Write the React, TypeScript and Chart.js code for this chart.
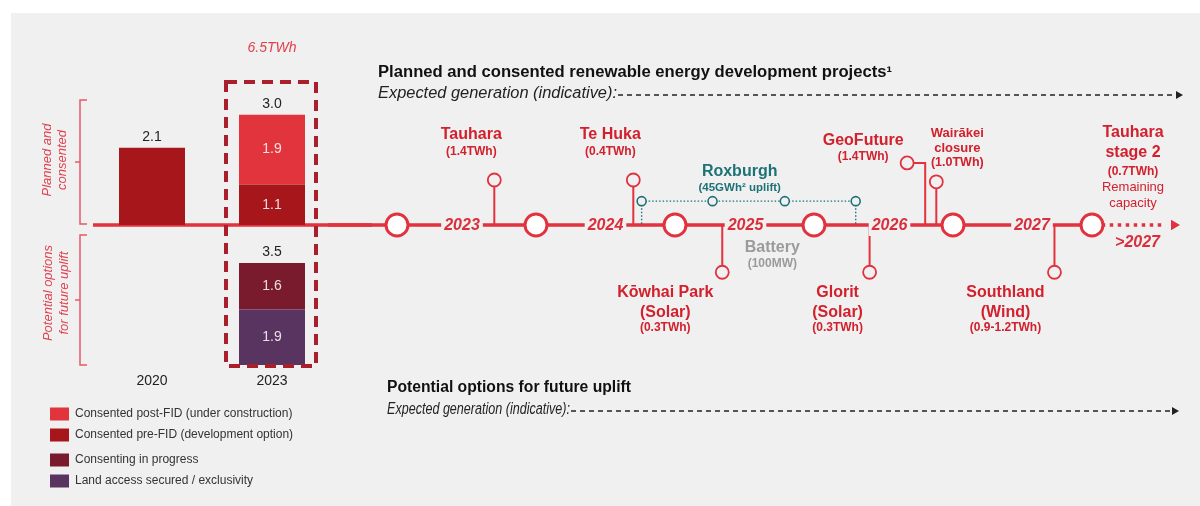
import React, { useEffect, useRef } from 'react';
import { Chart, registerables } from 'chart.js';

Chart.register(...registerables);

const SANS = '"Liberation Sans", Arial, Helvetica, sans-serif';
Chart.defaults.font.family = SANS;

// ---------------- Data ----------------
const barCategories = ['2020', '2023'];
const consentedPostFID = [null, 1.9];
const consentedPreFID = [2.1, 1.1];
const consentingInProgress = [null, 1.6];
const landAccessSecured = [null, 1.9];
const seriesLabels = [
  'Consented post-FID (under construction)',
  'Consented pre-FID (development option)',
  'Consenting in progress',
  'Land access secured / exclusivity',
];
const pipelineTotal = '6.5TWh';
const sectionTitles = [
  ['Planned and', 'consented'],
  ['Potential options', 'for future uplift'],
];

const yearTicks = [2023, 2024, 2025, 2026, 2027];
const milestoneMarks = [2022.5, 2023.5, 2024.5, 2025.5, 2026.5, 2027.5];
const projectNames = [
  'Tauhara',
  'Te Huka',
  'Roxburgh',
  'Kōwhai Park\n(Solar)',
  'Battery',
  'Glorit\n(Solar)',
  'GeoFuture',
  'Wairākei\nclosure',
  'Southland\n(Wind)',
  'Tauhara\nstage 2',
];
const projectOutputs = [
  '(1.4TWh)',
  '(0.4TWh)',
  '(45GWh² uplift)',
  '(0.3TWh)',
  '(100MW)',
  '(0.3TWh)',
  '(1.4TWh)',
  '(1.0TWh)',
  '(0.9-1.2TWh)',
  '(0.7TWh)',
];
const projectTiming = [2023.2, 2024.2, 2025.03, 2024.84, 2025.2, 2025.9, 2026.3, 2026.38, 2027.23, 2027.5];
const roxburghSteps = [2024.26, 2024.77, 2025.29, 2025.8];
const stage2Note = ['Remaining', 'capacity'];
const beyondLabel = '>2027';
const plannedHeading = 'Planned and consented renewable energy development projects¹';
const potentialHeading = 'Potential options for future uplift';
const expectedLabel = 'Expected generation (indicative):';

// ---------------- Styles ----------------
const RED = '#e1323e';
const TEXT_RED = '#d2202d';
const YEAR_RED = '#d92f3c';
const TEAL = '#1d7277';
const GRAY = '#9b9b9b';
const BG = '#f0f0f0';
const POST = '#e2343d';
const PRE = '#a6161b';
const CIP = '#7a1b2d';
const LAND = '#5a3460';
const BOX = '#a91f2b';
const BRACKET = '#e35a64';
const INK = '#222222';

function txt(ctx: any, s: string, x: number, y: number, font: string, color: string, align: string = 'center') {
  ctx.font = font;
  ctx.fillStyle = color;
  ctx.textAlign = align;
  ctx.textBaseline = 'middle';
  ctx.fillText(s, x, y);
}

// ---------------- Bar chart decorations ----------------
const barDecor = {
  id: 'barDecor',
  beforeDatasetsDraw(chart: any) {
    const { ctx } = chart;
    const y0 = chart.scales.y.getPixelForValue(0);
    ctx.save();
    ctx.strokeStyle = RED;
    ctx.lineWidth = 3.5;
    ctx.beginPath();
    ctx.moveTo(93, y0);
    ctx.lineTo(chart.chartArea.right + 40, y0);
    ctx.stroke();
    ctx.restore();
  },
  afterDatasetsDraw(chart: any) {
    const { ctx, chartArea } = chart;
    const xs = chart.scales.x;
    const y0 = chart.scales.y.getPixelForValue(0);
    ctx.save();

    // segment and total labels
    ['y', 'y2'].forEach((axisId) => {
      const scale = chart.scales[axisId];
      barCategories.forEach((_, i) => {
        let sum = 0;
        const segs: any[] = [];
        chart.data.datasets.forEach((ds: any, di: number) => {
          if (ds.yAxisID !== axisId) return;
          const v = ds.data[i];
          if (v == null) return;
          sum += v;
          segs.push({ el: chart.getDatasetMeta(di).data[i], v });
        });
        if (!segs.length) return;
        if (segs.length > 1) {
          segs.forEach(({ el, v }) => {
            txt(ctx, v.toFixed(1), el.x, (el.y + el.base) / 2, `14px ${SANS}`, 'rgba(255,255,255,0.85)');
          });
        }
        txt(ctx, sum.toFixed(1), xs.getPixelForValue(i), scale.getPixelForValue(sum) - 11, `14px ${SANS}`, INK);
      });
    });

    // dashed highlight box around the latest year
    const hi = barCategories.length - 1;
    const el = chart.getDatasetMeta(0).data[hi];
    const left = el.x - el.width / 2 - 13;
    const right = el.x + el.width / 2 + 11;
    const top = chartArea.top - 18;
    const bottom = chartArea.bottom + 1;
    ctx.setLineDash([11, 7]);
    ctx.lineWidth = 4;
    ctx.strokeStyle = BOX;
    ctx.strokeRect(left, top, right - left, bottom - top);
    ctx.setLineDash([]);
    txt(ctx, pipelineTotal, el.x, 48, `italic 14px ${SANS}`, '#e0404c');

    // brackets
    const bracket = (t: number, b: number, m: number) => {
      ctx.strokeStyle = BRACKET;
      ctx.lineWidth = 1.5;
      ctx.beginPath();
      ctx.moveTo(87, t);
      ctx.lineTo(80, t);
      ctx.lineTo(80, b);
      ctx.lineTo(87, b);
      ctx.moveTo(80, m);
      ctx.lineTo(75, m);
      ctx.stroke();
    };
    bracket(chartArea.top, y0 - 1, 162);
    bracket(y0 + 10, chartArea.bottom, 300);

    const rotated = (lines: string[], xs0: number[], cy: number) => {
      lines.forEach((s, k) => {
        ctx.save();
        ctx.translate(xs0[k], cy);
        ctx.rotate(-Math.PI / 2);
        txt(ctx, s, 0, 0, `italic 13px ${SANS}`, '#e0404c');
        ctx.restore();
      });
    };
    rotated(sectionTitles[0], [47, 62], 160);
    rotated(sectionTitles[1], [48, 64], 293);

    // category labels
    barCategories.forEach((c, i) => {
      txt(ctx, c, xs.getPixelForValue(i), chartArea.bottom + 16, `14px ${SANS}`, INK);
    });

    // legend
    const order = [1, 0, 3, 2];
    let ly = 414;
    order.forEach((di, k) => {
      const ds = chart.data.datasets[di];
      ctx.fillStyle = ds.backgroundColor;
      ctx.fillRect(50, ly - 6.5, 19, 13);
      txt(ctx, ds.label, 75, ly, `12px ${SANS}`, '#333', 'left');
      ly += k === 1 ? 25 : 21;
    });
    ctx.restore();
  },
};

// ---------------- Timeline decorations ----------------
const yearDx = [-4.5, 0, 1, 6, 9.5];
const labelLayout = [
  { dx: -23, color: TEXT_RED, nameFont: 'bold 16px', nameDy: [-90], outFont: 'bold 12px', outDy: -73 },
  { dx: -23, color: TEXT_RED, nameFont: 'bold 16px', nameDy: [-90], outFont: 'bold 12px', outDy: -73 },
  { dx: -9, color: TEAL, nameFont: 'bold 16px', nameDy: [-53], outFont: 'bold 11.5px', outDy: -37 },
  { dx: -57, color: TEXT_RED, nameFont: 'bold 16px', nameDy: [68, 88], outFont: 'bold 12px', outDy: 103 },
  { dx: 0, color: GRAY, nameFont: 'bold 16px', nameDy: [23], outFont: 'bold 12px', outDy: 39 },
  { dx: -32, color: TEXT_RED, nameFont: 'bold 16px', nameDy: [68, 88], outFont: 'bold 12px', outDy: 103 },
  { dx: -62, color: TEXT_RED, nameFont: 'bold 16px', nameDy: [-84], outFont: 'bold 12px', outDy: -68 },
  { dx: 21, color: TEXT_RED, nameFont: 'bold 13px', nameDy: [-92, -77], outFont: 'bold 12.5px', outDy: -62 },
  { dx: -49, color: TEXT_RED, nameFont: 'bold 16px', nameDy: [68, 88], outFont: 'bold 12px', outDy: 103 },
  { dx: 41, color: TEXT_RED, nameFont: 'bold 16px', nameDy: [-92, -72], outFont: 'bold 12px', outDy: -53 },
];
const stemLayout: any[] = [
  { level: 1.0 },
  { level: 1.0 },
  null,
  { level: -1.05 },
  null,
  { level: -1.05 },
  { level: 1.38, elbow: -0.13 },
  { level: 0.96 },
  { level: -1.05 },
  null,
];
const ROX_LEVEL = 0.53;

function fitText(ctx: any, s: string, x: number, y: number, font: string, color: string, targetW?: number) {
  ctx.font = font;
  const w = ctx.measureText(s).width;
  const sc = targetW ? targetW / w : 1;
  ctx.save();
  ctx.translate(x, y);
  ctx.scale(sc, 1);
  ctx.fillStyle = color;
  ctx.textAlign = 'left';
  ctx.textBaseline = 'middle';
  ctx.fillText(s, 0, 0);
  ctx.restore();
  return x + w * sc;
}

function dashedArrow(ctx: any, x1: number, x2: number, y: number) {
  ctx.save();
  ctx.strokeStyle = '#222';
  ctx.lineWidth = 1.4;
  ctx.setLineDash([5, 4]);
  ctx.beginPath();
  ctx.moveTo(x1, y);
  ctx.lineTo(x2 - 7, y);
  ctx.stroke();
  ctx.setLineDash([]);
  ctx.fillStyle = '#222';
  ctx.beginPath();
  ctx.moveTo(x2 - 7, y - 4);
  ctx.lineTo(x2, y);
  ctx.lineTo(x2 - 7, y + 4);
  ctx.closePath();
  ctx.fill();
  ctx.restore();
}

const tlDecor = {
  id: 'tlDecor',
  afterDatasetsDraw(chart: any) {
    const { ctx } = chart;
    const xs = chart.scales.x;
    const ys = chart.scales.y;
    const y0 = ys.getPixelForValue(0);
    ctx.save();

    // year labels sitting in gaps of the line
    yearTicks.forEach((yr, i) => {
      const cx = xs.getPixelForValue(yr) + yearDx[i];
      const font = `italic bold 16px ${SANS}`;
      ctx.font = font;
      const w = ctx.measureText(String(yr)).width;
      ctx.fillStyle = BG;
      ctx.fillRect(cx - w / 2 - 3, y0 - 11, w + 6, 22);
      txt(ctx, String(yr), cx, y0 + 1, font, YEAR_RED);
    });

    // project labels
    projectNames.forEach((name, i) => {
      const L = labelLayout[i];
      const cx = xs.getPixelForValue(projectTiming[i]) + L.dx;
      name.split('\n').forEach((line, k) => {
        txt(ctx, line, cx, y0 + L.nameDy[k], `${L.nameFont} ${SANS}`, L.color);
      });
      txt(ctx, projectOutputs[i], cx, y0 + L.outDy, `${L.outFont} ${SANS}`, L.color);
      if (i === projectNames.length - 1) {
        stage2Note.forEach((s, k) => txt(ctx, s, cx, y0 - 38 + k * 16, `13px ${SANS}`, TEXT_RED));
      }
    });

    // beyond label
    txt(ctx, beyondLabel, xs.getPixelForValue(2028.0) - 24, y0 + 18, `italic bold 16px ${SANS}`, YEAR_RED);

    // headings
    fitText(ctx, plannedHeading, 378, 73, `bold 16px ${SANS}`, '#111', 514);
    const e2 = fitText(ctx, expectedLabel, 378, 94, `italic 16px ${SANS}`, '#222', 239);
    dashedArrow(ctx, e2 + 1, 1183, 95);
    fitText(ctx, potentialHeading, 387, 388, `bold 16px ${SANS}`, '#111', 244);
    const e4 = fitText(ctx, expectedLabel, 387, 410, `italic 16px ${SANS}`, '#222', 183);
    dashedArrow(ctx, e4 + 1, 1179, 411);

    ctx.restore();
  },
};

export default function App() {
  const barRef = useRef<HTMLCanvasElement>(null);
  const tlRef = useRef<HTMLCanvasElement>(null);

  useEffect(() => {
    const barChart = new Chart(barRef.current as HTMLCanvasElement, {
      type: 'bar',
      data: {
        labels: barCategories,
        datasets: [
          { label: seriesLabels[1], data: consentedPreFID, backgroundColor: PRE, yAxisID: 'y' },
          { label: seriesLabels[0], data: consentedPostFID, backgroundColor: POST, yAxisID: 'y' },
          { label: seriesLabels[3], data: landAccessSecured, backgroundColor: LAND, yAxisID: 'y2' },
          { label: seriesLabels[2], data: consentingInProgress, backgroundColor: CIP, yAxisID: 'y2' },
        ] as any,
      },
      options: {
        animation: false,
        responsive: false,
        devicePixelRatio: 1,
        events: [],
        layout: { autoPadding: false, padding: { left: 92, right: 868, top: 100, bottom: 141 } } as any,
        datasets: { bar: { barPercentage: 0.55, categoryPercentage: 1, borderWidth: 0 } },
        scales: {
          x: { type: 'category', stacked: true, display: false, offset: true },
          y: { type: 'linear', stacked: true, display: false, min: 0, max: 3.4, stack: 'split', stackWeight: 125, weight: 1, position: 'left' },
          y2: { type: 'linear', stacked: true, display: false, min: 0, max: 4.8, stack: 'split', stackWeight: 140, weight: 0, position: 'left' },
        } as any,
        plugins: { legend: { display: false }, tooltip: { enabled: false } },
      },
      plugins: [barDecor],
    });

    const tlDatasets: any[] = [];
    tlDatasets.push({
      data: milestoneMarks.map((x) => ({ x, y: 0 })),
      showLine: false,
      pointRadius: 11,
      pointBorderWidth: 3,
      pointBackgroundColor: '#ffffff',
      pointBorderColor: RED,
      order: 0,
    });
    stemLayout.forEach((s, i) => {
      if (!s) return;
      const x = projectTiming[i];
      const pts: any[] = [{ x, y: 0 }, { x, y: s.level }];
      if (s.elbow) pts.push({ x: x + s.elbow, y: s.level });
      tlDatasets.push({
        data: pts,
        showLine: true,
        borderColor: RED,
        borderWidth: 2,
        pointRadius: pts.map((_, k) => (k === pts.length - 1 ? 6.5 : 0)),
        pointBorderWidth: 1.8,
        pointBorderColor: RED,
        pointBackgroundColor: BG,
        order: 2,
      });
    });
    tlDatasets.push({
      data: roxburghSteps.map((x) => ({ x, y: ROX_LEVEL })),
      showLine: true,
      borderColor: TEAL,
      borderWidth: 1.4,
      borderDash: [1.5, 2],
      pointRadius: 4.5,
      pointBorderWidth: 1.6,
      pointBorderColor: TEAL,
      pointBackgroundColor: BG,
      order: 1,
    });
    [roxburghSteps[0], roxburghSteps[roxburghSteps.length - 1]].forEach((x) => {
      tlDatasets.push({
        data: [{ x, y: ROX_LEVEL }, { x, y: 0 }],
        showLine: true,
        borderColor: TEAL,
        borderWidth: 1.4,
        borderDash: [1.5, 2],
        pointRadius: 0,
        order: 3,
      });
    });
    tlDatasets.push({
      data: [{ x: 2022, y: 0 }, { x: milestoneMarks[milestoneMarks.length - 1], y: 0 }],
      showLine: true,
      borderColor: RED,
      borderWidth: 3.5,
      pointRadius: 0,
      order: 5,
    });
    tlDatasets.push({
      data: [{ x: 2027.57, y: 0 }, { x: 2028.03, y: 0 }],
      showLine: true,
      borderColor: RED,
      borderWidth: 3.5,
      borderDash: [3.5, 4.5],
      pointRadius: 0,
      order: 4,
    });
    tlDatasets.push({
      data: [{ x: 2028.09, y: 0 }],
      showLine: false,
      pointStyle: 'triangle',
      rotation: 90,
      pointRadius: 6,
      pointBorderWidth: 0,
      pointBackgroundColor: RED,
      pointBorderColor: RED,
      order: 4,
    });

    const tlChart = new Chart(tlRef.current as HTMLCanvasElement, {
      type: 'scatter',
      data: { datasets: tlDatasets },
      options: {
        animation: false,
        responsive: false,
        devicePixelRatio: 1,
        events: [],
        layout: { autoPadding: false, padding: { left: 327.5, right: 10.7, top: 0, bottom: 56 } } as any,
        scales: {
          x: { type: 'linear', min: 2022, max: 2028.2, display: false },
          y: { type: 'linear', min: -5, max: 5, display: false },
        },
        plugins: { legend: { display: false }, tooltip: { enabled: false } },
      },
      plugins: [tlDecor],
    });

    return () => {
      barChart.destroy();
      tlChart.destroy();
    };
  }, []);

  const canvasStyle: React.CSSProperties = { position: 'absolute', left: 0, top: 0, width: 1200, height: 506 };
  return (
    <div style={{ position: 'fixed', left: 0, top: 0, width: 1200, height: 506, background: '#ffffff', overflow: 'hidden' }}>
      <div style={{ position: 'absolute', left: 11, top: 13, right: 0, bottom: 0, background: BG }} />
      <canvas ref={barRef} width={1200} height={506} style={canvasStyle} />
      <canvas ref={tlRef} width={1200} height={506} style={canvasStyle} />
    </div>
  );
}
